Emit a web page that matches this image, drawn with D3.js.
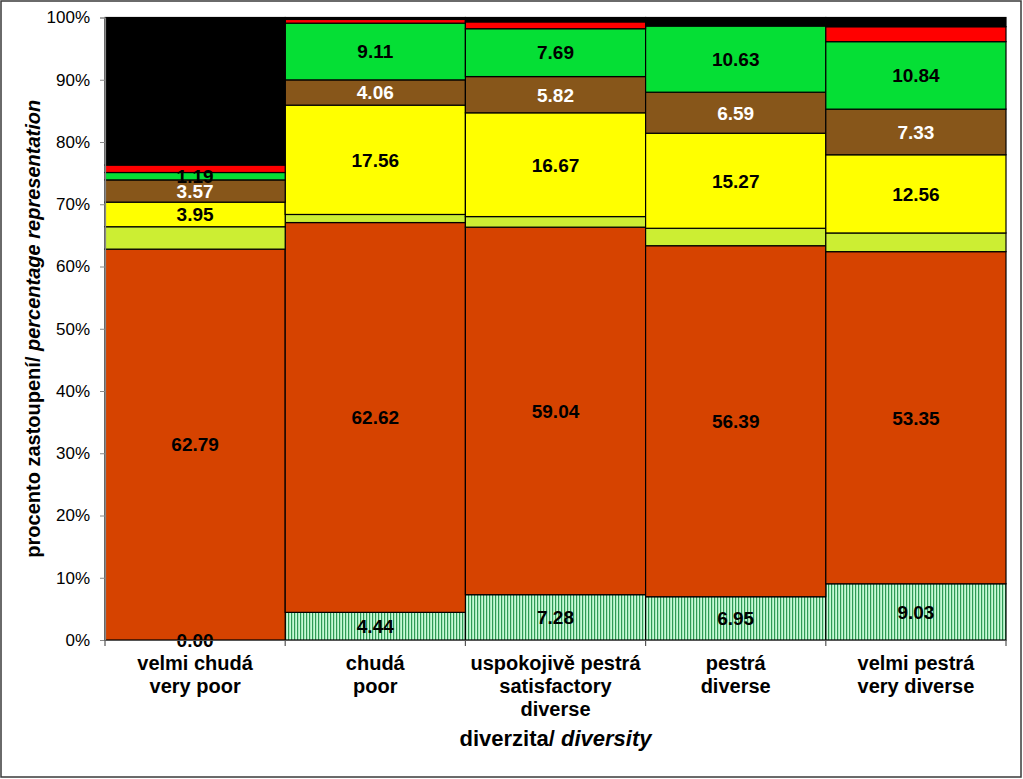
<!DOCTYPE html>
<html>
<head>
<meta charset="utf-8">
<script src="https://cdn.jsdelivr.net/npm/d3@7"></script>
<style>
  html, body { margin: 0; padding: 0; background: #fff; }
  svg { display: block; font-family: "Liberation Sans", Arial, sans-serif; }
</style>
</head>
<body>
<svg id="chart" width="1023" height="779"></svg>
<script>
// ---- data ----
const categories = [
  ["velmi chudá", "very poor"],
  ["chudá", "poor"],
  ["uspokojivě pestrá", "satisfactory", "diverse"],
  ["pestrá", "diverse"],
  ["velmi pestrá", "very diverse"]
];
const hatched    = [0.00, 4.44, 7.28, 6.95, 9.03];
const orange     = [62.79, 62.62, 59.04, 56.39, 53.35];
const lightGreen = [3.6, 1.3, 1.7, 2.8, 3.0];
const yellow     = [3.95, 17.56, 16.67, 15.27, 12.56];
const brown      = [3.57, 4.06, 5.82, 6.59, 7.33];
const green      = [1.19, 9.11, 7.69, 10.63, 10.84];
const red        = [1.2, 0.6, 1.1, 0.0, 2.4];
const black      = [23.7, 0.31, 0.7, 1.37, 1.48];
const yTicks     = [0, 10, 20, 30, 40, 50, 60, 70, 80, 90, 100];

const seriesDefs = [
  { key: "hatched",    values: hatched,    fill: "url(#hatch)", label: true,  labelColor: "#000" },
  { key: "orange",     values: orange,     fill: "#D64300",     label: true,  labelColor: "#000" },
  { key: "lightGreen", values: lightGreen, fill: "#CCEE33",     label: false },
  { key: "yellow",     values: yellow,     fill: "#FFFF00",     label: true,  labelColor: "#000" },
  { key: "brown",      values: brown,      fill: "#87561A",     label: true,  labelColor: "#fff" },
  { key: "green",      values: green,      fill: "#05DF35",     label: true,  labelColor: "#000" },
  { key: "red",        values: red,        fill: "#FF0000",     label: false },
  { key: "black",      values: black,      fill: "#000000",     label: false }
];

(function () {
const rows = categories.map((c, i) => {
  const r = { idx: i };
  seriesDefs.forEach(s => r[s.key] = s.values[i]);
  return r;
});

// ---- layout ----
const svg = d3.select("#chart");
const pLeft = 105, pRight = 1006, pTop = 17.5, pBottom = 640;
const font = '"Liberation Sans", Arial, sans-serif';

// outer border
svg.append("rect").attr("x", 1).attr("y", 1).attr("width", 1020).attr("height", 776)
  .attr("fill", "#fff").attr("stroke", "#3a3a3a").attr("stroke-width", 1.5);

// hatch pattern
const defs = svg.append("defs");
const pat = defs.append("pattern").attr("id", "hatch").attr("patternUnits", "userSpaceOnUse")
  .attr("width", 3).attr("height", 3);
pat.append("rect").attr("width", 3).attr("height", 3).attr("fill", "#C6FAD6");
pat.append("rect").attr("x", 0).attr("width", 1.2).attr("height", 3).attr("fill", "#2E9A55");

const x = d3.scaleBand().domain(d3.range(categories.length)).range([pLeft, pRight]).padding(0);
const y = d3.scaleLinear().domain([0, 1]).range([pBottom, pTop]);
const yAxisScale = d3.scaleLinear().domain([0, 100]).range([pBottom, pTop]);

const stack = d3.stack().keys(seriesDefs.map(s => s.key)).offset(d3.stackOffsetExpand);
const stacked = stack(rows);

// bars
const g = svg.append("g");
stacked.forEach((layer, li) => {
  const def = seriesDefs[li];
  g.selectAll(null).data(layer).enter().append("rect")
    .attr("x", (d, i) => x(i))
    .attr("width", x.bandwidth())
    .attr("y", d => y(d[1]))
    .attr("height", d => Math.max(0, y(d[0]) - y(d[1])))
    .attr("fill", def.fill)
    .attr("stroke", "#000")
    .attr("stroke-width", 1.2);
});

// axes
const yAxis = d3.axisLeft(yAxisScale).tickValues(yTicks).tickSize(5).tickPadding(10)
  .tickFormat(d => d + "%");
const yg = svg.append("g").attr("transform", `translate(${pLeft},0)`).call(yAxis);
yg.select(".domain").attr("stroke", "#888").attr("stroke-width", 1.2);
yg.selectAll(".tick line").attr("stroke", "#888");
yg.selectAll(".tick text").attr("font-size", 17).attr("font-family", font).attr("fill", "#000");

const xAxis = d3.axisBottom(x).tickSize(0).tickFormat("");
const xg = svg.append("g").attr("transform", `translate(0,${pBottom})`).call(xAxis);
xg.select(".domain").attr("stroke", "#555").attr("stroke-width", 1.2);
const bounds = d3.range(categories.length + 1).map(i => i < categories.length ? x(i) : x(i - 1) + x.bandwidth());
xg.selectAll(".bt").data(bounds).enter().append("line")
  .attr("x1", d => d).attr("x2", d => d).attr("y1", 0).attr("y2", 6)
  .attr("stroke", "#555").attr("stroke-width", 1.2);

// category labels
categories.forEach((lines, i) => {
  const t = svg.append("text").attr("text-anchor", "middle")
    .attr("font-family", font).attr("font-weight", "bold").attr("font-size", 20);
  lines.forEach((ln, j) => {
    t.append("tspan").attr("x", x(i) + x.bandwidth() / 2).attr("y", 670 + j * 23).text(ln);
  });
});

// data labels
stacked.forEach((layer, li) => {
  const def = seriesDefs[li];
  if (!def.label) return;
  g.selectAll(null).data(layer).enter().append("text")
    .attr("x", (d, i) => x(i) + x.bandwidth() / 2)
    .attr("y", d => (y(d[0]) + y(d[1])) / 2)
    .attr("dy", "0.36em")
    .attr("text-anchor", "middle")
    .attr("font-family", font).attr("font-weight", "bold").attr("font-size", 19)
    .attr("fill", def.labelColor)
    .text((d, i) => def.values[i].toFixed(2));
});

// axis titles
const xt = svg.append("text").attr("x", (pLeft + pRight) / 2).attr("y", 746)
  .attr("text-anchor", "middle").attr("font-family", font).attr("font-weight", "bold").attr("font-size", 22);
xt.append("tspan").text("diverzita/ ");
xt.append("tspan").attr("font-style", "italic").text("diversity");

const yt = svg.append("text")
  .attr("transform", `translate(40,${(pTop + pBottom) / 2}) rotate(-90)`)
  .attr("text-anchor", "middle").attr("font-family", font).attr("font-weight", "bold").attr("font-size", 20);
yt.append("tspan").text("procento zastoupení/ ");
yt.append("tspan").attr("font-style", "italic").text("percentage representation");
})();
</script>
</body>
</html>
